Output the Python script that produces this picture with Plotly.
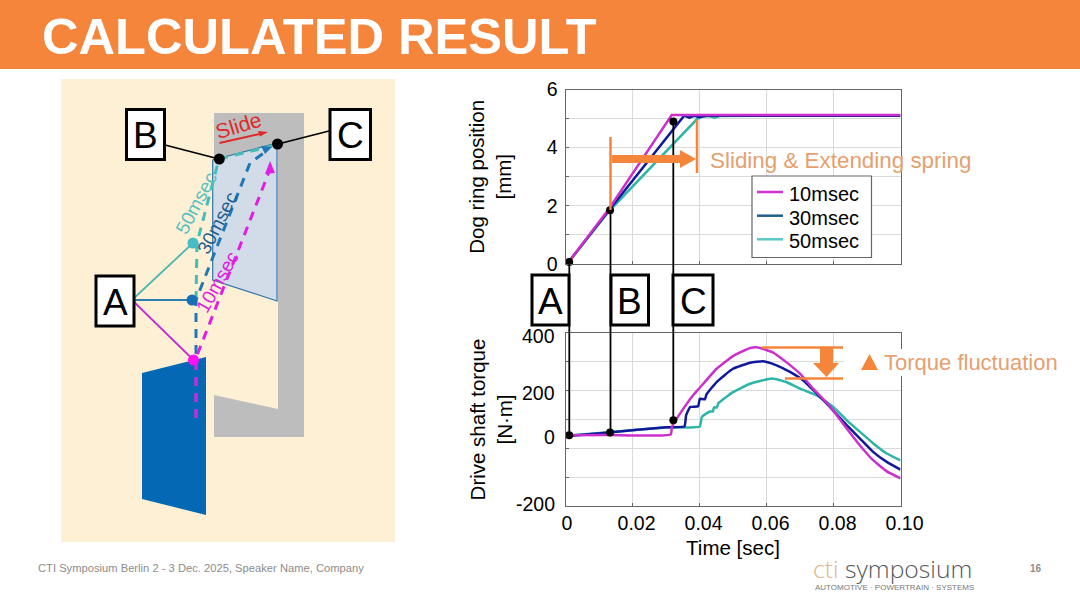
# Imports
# -------------------------------------------------------------------------
import plotly.graph_objects as go

FONT = 'Liberation Sans'
PAGE_W = 1080
PAGE_H = 608

# Chart data
# -------------------------------------------------------------------------
series_names = ['10msec', '30msec', '50msec']
series_colours = ['#CC30CC', '#10189C', '#2DB5A8']
legend_colours = ['#D030D0', '#1F5F8C', '#5CC8C4']

pos_time_10 = [0, 0.001, 0.013, 0.0317, 0.04, 0.06, 0.08, 0.10]
pos_10 = [0.02, 0.08, 1.9, 5.12, 5.12, 5.12, 5.12, 5.12]
pos_time_30 = [0, 0.001, 0.013, 0.0354, 0.037, 0.0385, 0.040, 0.042, 0.06, 0.10]
pos_30 = [0.02, 0.08, 1.85, 5.1, 5.03, 5.1, 5.05, 5.1, 5.1, 5.1]
pos_time_50 = [0, 0.001, 0.013, 0.0394, 0.041, 0.043, 0.0445, 0.046, 0.06, 0.10]
pos_50 = [0.02, 0.08, 1.82, 5.0, 5.09, 5.08, 5.03, 5.09, 5.1, 5.1]

torque_time_10 = [0, 0.013, 0.0314, 0.0318, 0.0332, 0.0381, 0.0401, 0.0451, 0.05, 0.0551,
                  0.0575, 0.062, 0.0659, 0.07, 0.0739, 0.078, 0.08, 0.084, 0.0879, 0.0919,
                  0.0959, 0.10]
torque_10 = [45, 46, 48, 76, 103, 184, 210, 276, 320, 348, 350, 332, 299, 259, 207, 158,
             130, 68, 10, -42, -80, -104]
torque_time_30 = [0, 0.013, 0.03, 0.0355, 0.036, 0.0372, 0.0396, 0.0401, 0.0416, 0.0421,
                  0.0451, 0.05, 0.0551, 0.059, 0.063, 0.067, 0.0709, 0.075, 0.078, 0.08,
                  0.084, 0.0879, 0.0919, 0.0959, 0.10]
torque_30 = [42, 55, 73, 76, 114, 143, 146, 172, 170, 187, 230, 276, 297, 302, 288, 265,
             236, 190, 155, 130, 80, 34, -13, -47, -74]
torque_time_50 = [0, 0.013, 0.03, 0.0401, 0.0407, 0.0431, 0.044, 0.0443, 0.0452, 0.0456,
                  0.05, 0.0551, 0.0616, 0.0659, 0.07, 0.075, 0.08, 0.084, 0.0879, 0.0919,
                  0.0959, 0.10]
torque_50 = [44, 56, 72, 76, 109, 128, 128, 142, 142, 156, 195, 224, 242, 230, 207, 184,
             143, 97, 57, 17, -18, -42]

# event points (A, B, C)
event_time = [0.0011, 0.0133, 0.0322]
event_pos = [0.07, 1.85, 4.9]
event_torque = [45, 55, 97]

pos_ticks = [0, 1, 2, 3, 4, 5, 6]
pos_tick_text = ['0', '', '2', '', '4', '', '6']
torque_ticks = [-200, -100, 0, 100, 200, 300, 400]
time_ticks = [0, 0.02, 0.04, 0.06, 0.08, 0.10]
time_tick_text = ['0\u00a0', '0.02', '0.04', '0.06', '0.08', '0.10']
torque_labels = ['400', '200', '0', '-200']

# Drawing helpers (page pixel coordinates, y pointing down)
# -------------------------------------------------------------------------
shapes = []
annotations = []


def path(points, fill=None, colour=None, width=0, dash=None, close=True):
    d = 'M ' + ' L '.join(f'{x},{y}' for x, y in points) + (' Z' if close else '')
    shapes.append(dict(type='path', path=d, xref='x3', yref='y3', layer='above',
                       fillcolor=fill if fill else 'rgba(0,0,0,0)',
                       line=dict(color=colour if colour else 'rgba(0,0,0,0)',
                                 width=width, dash=dash)))


def rect(x0, y0, x1, y1, fill, colour=None, width=0):
    path([(x0, y0), (x1, y0), (x1, y1), (x0, y1)], fill, colour, width)


def line(points, colour, width=2, dash=None):
    path(points, None, colour, width, dash, close=False)


def dot(x, y, r, colour):
    shapes.append(dict(type='circle', xref='x3', yref='y3', layer='above',
                       x0=x - r, x1=x + r, y0=y - r, y1=y + r,
                       fillcolor=colour, line=dict(width=0)))


def text(x, y, s, size, colour='black', angle=0, anchor='center', bold=False, family=FONT):
    annotations.append(dict(x=x, y=y, xref='x3', yref='y3', text=f'<b>{s}</b>' if bold else s,
                            showarrow=False, xanchor=anchor, yanchor='middle',
                            textangle=angle, align='left',
                            font=dict(family=family, size=size, color=colour)))


def letter_box(x0, y0, x1, y1, s):
    rect(x0, y0, x1, y1, 'white', 'black', 3)
    text((x0 + x1) / 2, (y0 + y1) / 2 + 1, s, 37)


ORANGE = '#F5853B'
ORANGE_TEXT = '#E5A06E'
TEAL = '#45BDB5'
BLUE = '#1F77B4'
MAGENTA = '#E020E0'

# Slide header and footer
# -------------------------------------------------------------------------
rect(0, 0, PAGE_W, 69, ORANGE)
text(40, 36, 'CALCULATED RESULT', 50.6, 'white', anchor='left', bold=True)
text(36, 568, 'CTI Symposium Berlin 2 - 3 Dec. 2025, Speaker Name, Company', 11.2, '#8C8C8C', anchor='left')
annotations.append(dict(x=811, y=568, xref='x3', yref='y3', showarrow=False, xanchor='left',
                        yanchor='middle',
                        text='<span style="color:#E0B48C">cti</span> symposium',
                        font=dict(family='Open Sans', size=24.7, color='#55585C', weight=300)))
text(813, 587, 'AUTOMOTIVE · POWERTRAIN · SYSTEMS', 8, '#777777', anchor='left')
text(1036, 568, '<b>16</b>', 10, '#8C8C8C')

# Left schematic
# -------------------------------------------------------------------------
rect(61, 79, 395, 542, '#FDF0D5')
path([(214, 113), (304, 113), (304, 437), (214, 437), (214, 395), (278, 409), (278, 143), (214, 160)],
     '#BDBDBD')
path([(212.7, 160), (277, 143), (277, 301), (212.7, 280)], '#D2DCE8', '#2E75A8', 1.2)
path([(142, 373), (206, 357), (206, 515), (142, 499)], '#0468B4')

line([(132, 300), (193, 243)], '#4DB8B0', 1.8)
line([(132, 300), (192, 300)], '#2E7DB0', 1.8)
line([(132, 300), (193.5, 360)], '#C030D0', 1.8)

line([(196, 300), (197, 243), (219, 159), (272, 146)], TEAL, 3, '9px,7px')
line([(196, 418), (196, 300), (250, 163), (268, 150)], BLUE, 3, '9px,7px')
line([(196, 418), (196, 358), (269, 172)], MAGENTA, 3, '9px,7px')
path([(272, 147), (261, 146), (265, 154)], BLUE)
path([(270, 161), (265, 174), (275, 173)], MAGENTA)

dot(193, 243, 5.5, '#45BDC5')
dot(192, 300, 5.5, '#1770B5')
dot(193.5, 360, 5.5, '#FF10F0')

line([(165, 145), (219, 159)], 'black', 1.8)
line([(278, 144), (329, 131)], 'black', 1.8)
dot(219.3, 159, 5.5, 'black')
dot(277.5, 144, 5.5, 'black')
letter_box(126.5, 109.5, 164.5, 159.5, 'B')
letter_box(330, 109.5, 370.5, 159.5, 'C')
letter_box(96, 276, 134, 326, 'A')

line([(219.5, 143), (262, 133.5)], '#E0282A', 2)
path([(268, 132), (258, 131), (260, 136.5)], '#E0282A')
text(238, 125, 'Slide', 21, '#DD2A2A', angle=-17)
text(196.7, 202.7, '50msec', 19, '#58C0C0', angle=-62)
text(217, 223, '30msec', 19, '#1F5F92', angle=-63)
text(217, 282, '10msec', 19, '#E020E0', angle=-61)

# Right chart overlays
# -------------------------------------------------------------------------
rect(844, 349, 903, 376, 'white')

line([(569.3, 263), (569.3, 435)], 'black', 1.8)
line([(610.5, 210), (610.5, 433)], 'black', 1.8)
line([(673.3, 120), (673.3, 420)], 'black', 1.8)
letter_box(532, 275, 569, 325, 'A')
letter_box(611, 275, 648.5, 325, 'B')
letter_box(673, 275, 713, 325, 'C')

line([(610.5, 137), (610.5, 210)], ORANGE, 2.5)
line([(697, 120), (697, 173)], ORANGE, 2.5)
path([(612, 155), (680, 155), (680, 150), (696, 159), (680, 168), (680, 163), (612, 163)], ORANGE)
text(708, 160, 'Sliding &amp; Extending spring', 22.4, ORANGE_TEXT, anchor='left')

line([(762, 347.5), (843, 347.5)], ORANGE, 2.5)
line([(785, 378.5), (843, 378.5)], ORANGE, 2.5)
path([(820, 348), (833, 348), (833, 363), (839, 363), (826.5, 377), (813, 363), (820, 363)], ORANGE)
path([(861, 370), (878, 370), (869.5, 354)], ORANGE)
text(882, 362, 'Torque fluctuation', 22, ORANGE_TEXT, anchor='left')

for lab, ypx in zip(torque_labels, [336, 393, 437, 504]):
    text(557, ypx, lab, 19.5, anchor='right')

# legend box, drawn by hand to keep its tight row spacing
rect(752, 176, 871.5, 257.5, 'white', '#666666', 1.2)
for name, colour, ypx in zip(series_names, legend_colours, [192, 215.7, 239.3]):
    line([(757, ypx), (783, ypx)], colour, 2.5)
    text(786.5, ypx + 2, name, 20, anchor='left')

# Figure
# -------------------------------------------------------------------------
fig = go.Figure()

pos_series = [(pos_time_10, pos_10), (pos_time_30, pos_30), (pos_time_50, pos_50)]
torque_series = [(torque_time_10, torque_10), (torque_time_30, torque_30), (torque_time_50, torque_50)]

# draw order: teal at the back, magenta on top
for i in [2, 1, 0]:
    fig.add_trace(go.Scatter(x=pos_series[i][0], y=pos_series[i][1], name=series_names[i],
                             mode='lines', line=dict(color=series_colours[i], width=2.5),
                             xaxis='x', yaxis='y', showlegend=False))
    fig.add_trace(go.Scatter(x=torque_series[i][0], y=torque_series[i][1], name=series_names[i],
                             mode='lines',
                             line=dict(color=series_colours[i], width=2.5, shape='spline', smoothing=0.4),
                             xaxis='x2', yaxis='y2', showlegend=False))

fig.add_trace(go.Scatter(x=event_time, y=event_pos, mode='markers', showlegend=False,
                         marker=dict(color='black', size=8), xaxis='x', yaxis='y', cliponaxis=False))
fig.add_trace(go.Scatter(x=event_time, y=event_torque, mode='markers', showlegend=False,
                         marker=dict(color='black', size=8), xaxis='x2', yaxis='y2', cliponaxis=False))
# empty trace so the page axes exist
fig.add_trace(go.Scatter(x=[0], y=[0], mode='markers', marker=dict(opacity=0), showlegend=False,
                         xaxis='x3', yaxis='y3', hoverinfo='skip'))

common = dict(showline=True, mirror=True, linecolor='#666666', linewidth=1, showgrid=True,
              gridcolor='#DADADA', gridwidth=1, ticks='inside', ticklen=3, tickcolor='#666666',
              zeroline=False, tickfont=dict(family=FONT, size=19.5, color='black'))
chart_x = [565.5 / PAGE_W, 900.5 / PAGE_W]

fig.update_layout(
    width=PAGE_W, height=PAGE_H, margin=dict(l=0, r=0, t=0, b=0, autoexpand=False),
    paper_bgcolor='white', plot_bgcolor='rgba(0,0,0,0)',
    font=dict(family=FONT, size=18, color='black'),
    showlegend=False,
    xaxis=dict(domain=chart_x, range=[0, 0.1], tickvals=time_ticks, showticklabels=False,
               anchor='y', **common),
    yaxis=dict(domain=[1 - 264 / PAGE_H, 1 - 89.5 / PAGE_H], range=[0, 6], tickvals=pos_ticks,
               ticktext=pos_tick_text, anchor='x', ticklabelstandoff=3,
               title=dict(text='Dog ring position<br>[mm]', standoff=29,
                          font=dict(family=FONT, size=20.5)), **common),
    xaxis2=dict(domain=chart_x, range=[0, 0.1], tickvals=time_ticks, ticktext=time_tick_text,
                anchor='y2', ticklabelshift=4,
                title=dict(text='Time [sec]', standoff=7, font=dict(family=FONT, size=20.5)),
                **common),
    yaxis2=dict(domain=[1 - 506 / PAGE_H, 1 - 333 / PAGE_H], range=[-200, 400], tickvals=torque_ticks,
                showticklabels=False, anchor='x2',
                title=dict(text='Drive shaft torque<br>[N·m]', standoff=46,
                           font=dict(family=FONT, size=20.5)), **common),
    xaxis3=dict(domain=[0, 1], range=[0, PAGE_W], visible=False, anchor='y3'),
    yaxis3=dict(domain=[0, 1], range=[PAGE_H, 0], visible=False, anchor='x3'),
    shapes=shapes,
    annotations=annotations,
)

fig.write_html('out.html', config={'displayModeBar': False},
               post_script="document.body.style.margin='0';")
